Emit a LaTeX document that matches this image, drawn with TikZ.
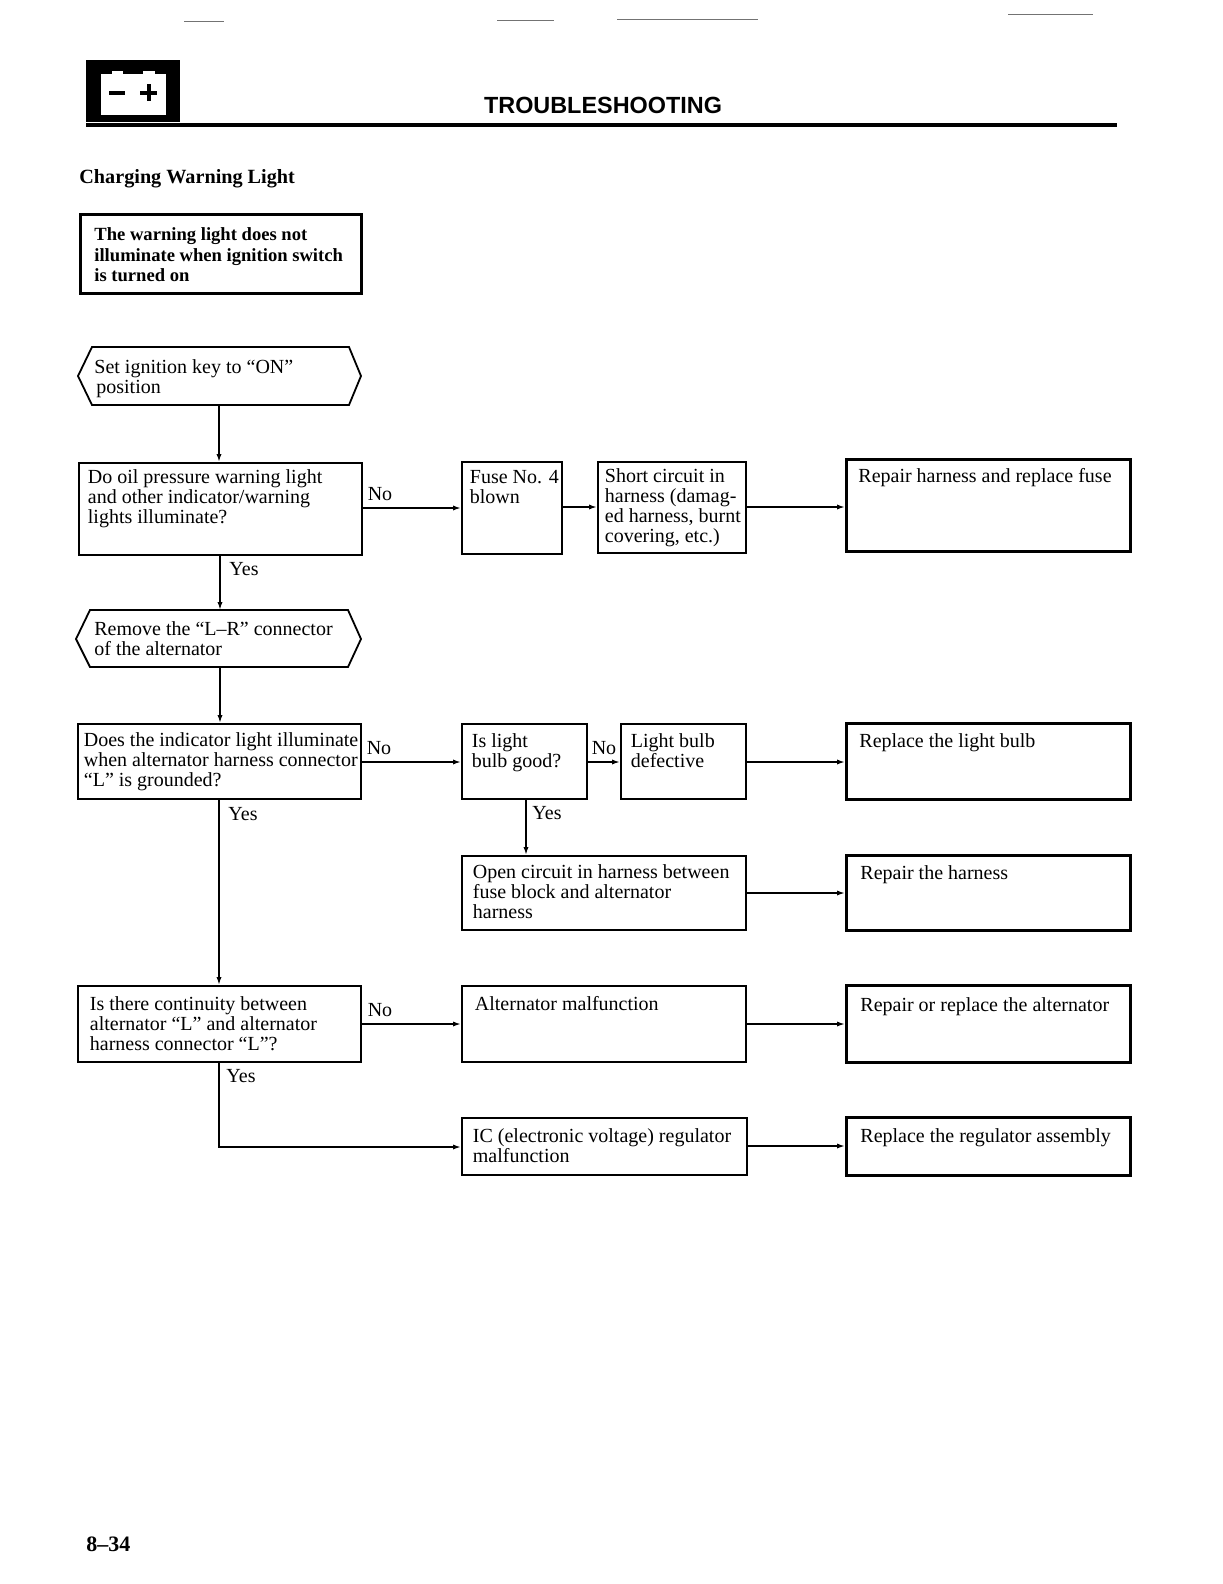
\documentclass[tikz,border=0pt]{standalone}
\usepackage{fontspec}
\setmainfont{Liberation Serif}
\newfontfamily\hdfont{Liberation Sans}
\usetikzlibrary{arrows.meta,calc}
\tikzset{
  thinbox/.style={draw,line width=0.9pt,inner sep=0pt,anchor=north west,rectangle,font=\bodyfont},
  thickbox/.style={thinbox,line width=1.4pt},
  titlebox/.style={thickbox,font=\boldbody},
  flow/.style={draw,line width=0.8pt,-{Latex[length=4pt,width=2.6pt]}},
  hexline/.style={draw,line width=0.9pt},
  branch/.style={font=\bodyfont,inner sep=0pt},
  hextext/.style={inner sep=0pt,anchor=base west,font=\bodyfont,align=left},
  scanline/.style={draw=black!55,line width=0.5pt}
}
\newcommand{\bodyfont}{\fontsize{10}{10}\selectfont}
\newcommand{\boldbody}{\fontsize{9.3}{10.2}\bfseries\selectfont}
% name, x1,y1,x2,y2, text x, first baseline, style, text
\newcommand{\fcbox}[9]{%
  \node[#8] (#1) at (#2,#3) {\parbox[c][\dimexpr(#5pt-#3pt)/2\relax][t]{\dimexpr(#4pt-#2pt)/2\relax}{%
    \vspace*{\dimexpr(#7pt-#3pt)/2-7pt\relax}\hspace*{\dimexpr(#6pt-#2pt)/2\relax}%
    \begin{tabular}[t]{@{}l@{}}#9\end{tabular}}};}
\begin{document}
\begin{tikzpicture}[x=0.5pt,y=-0.5pt]
\useasboundingbox (0,0) rectangle (1222,1584);
\fill[white] (0,0) rectangle (1222,1584);
% scan lines at the top
\draw[scanline] (184,22) -- (224,22);
\draw[scanline] (497,21) -- (554,21);
\draw[scanline] (617,20) -- (758,20);
\draw[scanline] (1008,15) -- (1093,15);
% battery icon
\fill[black] (86,60) rectangle (180,122);
\fill[white] (101,74) rectangle (166,115);
\fill[white] (112,71) rectangle (123,75);
\fill[white] (143,71) rectangle (155,75);
\fill[black] (109,91) rectangle (125,95);
\fill[black] (140,91) rectangle (157,95);
\fill[black] (146.5,84) rectangle (150.5,101);
% header
\node[inner sep=0pt,anchor=base,font=\hdfont\bfseries\fontsize{11.7}{14}\selectfont] (hd) at (603,113) {TROUBLESHOOTING};
\fill[black] (86,123.5) rectangle (1117,127.5);
\node[inner sep=0pt,anchor=base west,font=\fontsize{10.1}{12}\bfseries\selectfont] (sub) at (79,184) {Charging Warning Light};
\node[inner sep=0pt,anchor=base west,font=\fontsize{11}{12}\bfseries\selectfont] (pg) at (86,1551) {8--34};
% title
\fcbox{title}{79}{213}{360}{292}{93}{239}{titlebox}{The warning light does not\\illuminate when ignition switch\\is turned on}
% hexagons
\node[hextext] (hexa) at (94,373) {Set ignition key to “ON”};
\node[hextext] (hexaa) at (96,393) {position};
\coordinate (hexabot) at (219,405);
\draw[hexline] (78,376) -- (92,347) -- (349,347) -- (361,376) -- (349,405) -- (92,405) -- cycle;
\node[hextext] (hexb) at (94,635) {Remove the “L--R” connector};
\node[hextext] (hexbb) at (94,655) {of the alternator};
\coordinate (hexbtop) at (220,610);
\coordinate (hexbbot) at (220,667);
\draw[hexline] (76,639) -- (90,610) -- (348,610) -- (361,639) -- (348,667) -- (90,667) -- cycle;
% left column
\fcbox{oil}{78}{462}{361}{554}{87}{483}{thinbox}{Do oil pressure warning light\\and other indicator/warning\\lights illuminate?}
\fcbox{ind}{77}{723}{360}{798}{83}{746}{thinbox}{Does the indicator light illuminate\\when alternator harness connector\\“L” is grounded?}
\fcbox{cont}{77}{985}{360}{1061}{89}{1010}{thinbox}{Is there continuity between\\alternator “L” and alternator\\harness connector “L”?}
% middle
\fcbox{fuse}{461}{461}{561}{553}{469}{483}{thinbox}{Fuse No. 4\\blown}
\fcbox{short}{597}{461}{745}{552}{604}{482}{thinbox}{Short circuit in\\harness (damag-\\ed harness, burnt\\covering, etc.)}
\fcbox{good}{461}{723}{586}{798}{471}{747}{thinbox}{Is light\\bulb good?}
\fcbox{bulb}{620}{723}{745}{798}{630}{747}{thinbox}{Light bulb\\defective}
\fcbox{open}{461}{855}{745}{929}{472}{878}{thinbox}{Open circuit in harness between\\fuse block and alternator\\harness}
\fcbox{alt}{461}{985}{745}{1061}{474}{1010}{thinbox}{Alternator malfunction}
\fcbox{ic}{461}{1117}{746}{1174}{472}{1142}{thinbox}{IC (electronic voltage) regulator\\malfunction}
% right
\fcbox{rfuse}{845}{458}{1129}{550}{857}{481}{thickbox}{Repair harness and replace fuse}
\fcbox{rbulb}{845}{722}{1129}{798}{858}{746}{thickbox}{Replace the light bulb}
\fcbox{rharn}{845}{854}{1129}{929}{859}{878}{thickbox}{Repair the harness}
\fcbox{ralt}{845}{984}{1129}{1061}{859}{1010}{thickbox}{Repair or replace the alternator}
\fcbox{rreg}{845}{1116}{1129}{1174}{859}{1141}{thickbox}{Replace the regulator assembly}
% connectors
\draw[flow] (hexabot) -- (hexabot |- oil.north);
\draw[flow] (oil.south -| hexbtop) -- (hexbtop);
\draw[flow] (hexbbot) -- (hexbbot |- ind.north);
\draw[flow] (ind.south -| 219,0) -- (cont.north -| 219,0);
\draw[flow] (oil.east |- 0,508) -- (fuse.west |- 0,508);
\draw[flow] (fuse.east |- 0,507) -- (short.west |- 0,507);
\draw[flow] (short.east |- 0,507) -- (rfuse.west |- 0,507);
\draw[flow] (ind.east |- 0,762) -- (good.west |- 0,762);
\draw[flow] (good.east |- 0,762) -- (bulb.west |- 0,762);
\draw[flow] (bulb.east |- 0,762) -- (rbulb.west |- 0,762);
\draw[flow] (good.south -| 526,0) -- (open.north -| 526,0);
\draw[flow] (open.east |- 0,893) -- (rharn.west |- 0,893);
\draw[flow] (cont.east |- 0,1024) -- (alt.west |- 0,1024);
\draw[flow] (alt.east |- 0,1024) -- (ralt.west |- 0,1024);
\draw[flow] (cont.south -| 219,0) -- (219,1147) -- (ic.west |- 0,1147);
\draw[flow] (ic.east |- 0,1146) -- (rreg.west |- 0,1146);
% branch labels
\node[branch] (n1) at (380,494) {No};
\node[branch] (y1) at (244,569) {Yes};
\node[branch] (n2) at (379,748) {No};
\node[branch] (y2) at (243,814) {Yes};
\node[branch] (n3) at (604,748) {No};
\node[branch] (y3) at (547,813) {Yes};
\node[branch] (n4) at (380,1010) {No};
\node[branch] (y4) at (241,1076) {Yes};
\end{tikzpicture}
\end{document}
